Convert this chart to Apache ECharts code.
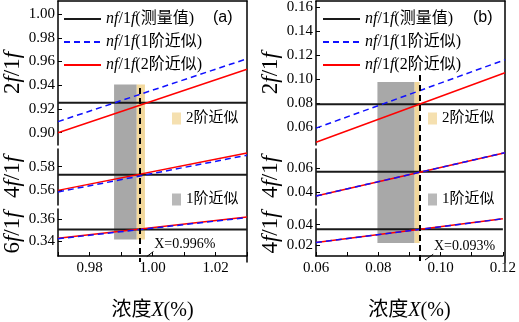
<!DOCTYPE html>
<html>
<head>
<meta charset="utf-8">
<script src="https://cdn.jsdelivr.net/npm/echarts@6/dist/echarts.min.js"></script>
<style>
  html, body { margin: 0; padding: 0; background: #fff; }
  #main { width: 519px; height: 322px; }
</style>
</head>
<body>
<div id="main"></div>
<script>
// ---- panel (a) data ----
const xRangeA = [0.97, 1.03];
const xTicksA = [0.97, 0.98, 0.99, 1.00, 1.01, 1.02, 1.03];
const xLabelsA = [0.98, 1.00, 1.02];
const yRangesA = [[0.8896, 1.011], [0.5477, 0.5948], [0.3262, 0.3696]];
const yTicksA = [[0.90, 0.92, 0.94, 0.96, 0.98, 1.00], [0.56, 0.58], [0.34, 0.36]];
const measuredA = [0.9253, 0.5731, 0.3506];
const firstA = [[0.9093, 0.9623], [0.5587, 0.5896], [0.3421, 0.3617]];
const secondA = [[0.9000, 0.9534], [0.5600, 0.5915], [0.3427, 0.3623]];
const grayA = [0.9878, 0.9950];
const orangeA = [0.9950, 0.9976];
const solutionA = 0.996;

// ---- panel (b) data ----
const xRangeB = [0.06, 0.12];
const xTicksB = [0.06, 0.07, 0.08, 0.09, 0.10, 0.11, 0.12];
const xLabelsB = [0.06, 0.08, 0.10, 0.12];
const yRangesB = [[0.04525, 0.1653], [0.0294, 0.0761], [0.0088, 0.0557]];
const yTicksB = [[0.06, 0.08, 0.10, 0.12, 0.14, 0.16], [0.04, 0.06], [0.02, 0.04]];
const measuredB = [0.0792, 0.0572, 0.0356];
const firstB = [[0.0593, 0.1164], [0.0369, 0.0730], [0.0223, 0.0459]];
const secondB = [[0.0475, 0.1055], [0.0369, 0.0730], [0.0223, 0.0459]];
const grayB = [0.0795, 0.0913];
const orangeB = [0.0913, 0.0929];
const solutionB = 0.093;

const yNames = [['2', '4', '6'], ['2', '4', '4']];

// ---- layout ----
const FONT = '"Liberation Serif", "Noto Sans CJK SC", serif';
const CJK = '"Liberation Serif", "Noto Sans CJK SC", sans-serif';
const PLOT_W = 189;
const SUBS = [{ top: 1, h: 144 }, { top: 149, h: 56 }, { top: 209, h: 53 }];
const OVER_H = 261;

const panels = [
  { left: 58, x: xRangeA, xTicks: xTicksA, xLabels: xLabelsA, yRanges: yRangesA, yTicks: yTicksA,
    meas: measuredA, first: firstA, second: secondA, gray: grayA, orange: orangeA, sol: solutionA,
    areaY: [83.5, 238.5], solTop: 87, lead: [[0.9982, 255.5], [1.0003, 250.5]], label: 'X=0.996%',
    names: yNames[0], tag: '(a)', tagLeft: 213, legLeft: 63, areaLegLeft: 172 },
  { left: 316, x: xRangeB, xTicks: xTicksB, xLabels: xLabelsB, yRanges: yRangesB, yTicks: yTicksB,
    meas: measuredB, first: firstB, second: secondB, gray: grayB, orange: orangeB, sol: solutionB,
    areaY: [81, 242], solTop: 74, lead: [[0.0946, 259], [0.0972, 253.3]], label: 'X=0.093%',
    names: yNames[1], tag: '(b)', tagLeft: 473, legLeft: 322, areaLegLeft: 428 }
];

const grid = [], xAxis = [], yAxis = [], series = [], title = [], legend = [];
const axisLine = { show: true, onZero: false, lineStyle: { color: '#000', width: 1.5 } };
const fmt2 = v => Number(v).toFixed(2);

panels.forEach((p, pi) => {
  p.yRanges.forEach((yr, s) => {
    const gi = grid.length;
    grid.push({ left: p.left, top: SUBS[s].top, width: PLOT_W, height: SUBS[s].h });
    const bottom = s === 2;
    xAxis.push({
      gridIndex: gi, type: 'value', min: p.x[0], max: p.x[1], show: bottom,
      axisLine, splitLine: { show: false },
      axisTick: { show: true, inside: true, length: 4, customValues: p.xTicks, lineStyle: { color: '#000' } },
      axisLabel: { customValues: p.xLabels, formatter: fmt2, color: '#000', fontFamily: FONT, fontSize: 15, margin: 5 },
      name: bottom ? '{c|浓度}{i|X}{c|(%)}' : '', nameLocation: 'middle', nameGap: 45,
      nameTextStyle: { rich: {
        c: { fontFamily: CJK, fontSize: 20, color: '#000' },
        i: { fontFamily: FONT, fontStyle: 'italic', fontSize: 20, color: '#000' } } }
    });
    yAxis.push({
      gridIndex: gi, type: 'value', min: yr[0], max: yr[1],
      axisLine, splitLine: { show: false },
      axisTick: { show: true, inside: true, length: 4, customValues: p.yTicks[s], lineStyle: { color: '#000' } },
      axisLabel: { customValues: p.yTicks[s], formatter: fmt2, color: '#000', fontFamily: FONT, fontSize: 15, margin: 3 },
      name: '{d|' + p.names[s] + '}{f|f}{d|/1}{f|f}', nameLocation: 'middle', nameGap: 34,
      nameTextStyle: { rich: {
        d: { fontFamily: FONT, fontSize: 23, color: '#000' },
        f: { fontFamily: FONT, fontStyle: 'italic', fontSize: 23, color: '#000' } } }
    });
    const pts = v => [[p.x[0], v[0]], [p.x[1], v[1]]];
    series.push({
      name: 'meas', type: 'line', xAxisIndex: gi, yAxisIndex: gi, symbol: 'none', silent: true,
      data: pts([p.meas[s], p.meas[s]]), color: '#1a1a1a', lineStyle: { color: '#1a1a1a', width: 2 }
    });
    series.push({
      name: 'second', type: 'line', xAxisIndex: gi, yAxisIndex: gi, symbol: 'none', silent: true,
      data: pts(p.second[s]), color: '#ff0000', lineStyle: { color: '#ff0000', width: 1.5 }
    });
    series.push({
      name: 'first', type: 'line', xAxisIndex: gi, yAxisIndex: gi, symbol: 'none', silent: true,
      data: pts(p.first[s]), color: '#1010ff', lineStyle: { color: '#1010ff', width: 1.5, type: [6, 4] }
    });
  });

  // overlay grid spanning the whole panel: frame, shaded ranges, solution line
  const oi = grid.length;
  grid.push({ left: p.left, top: 1, width: PLOT_W, height: OVER_H });
  xAxis.push({ gridIndex: oi, type: 'value', min: p.x[0], max: p.x[1], position: 'top',
    axisLine, axisTick: { show: false }, axisLabel: { show: false }, splitLine: { show: false } });
  yAxis.push({ gridIndex: oi, type: 'value', min: 0, max: OVER_H, inverse: true, position: 'right',
    axisLine, axisTick: { show: false }, axisLabel: { show: false }, splitLine: { show: false } });
  const area = (name, color, xr) => ({
    name, type: 'scatter', xAxisIndex: oi, yAxisIndex: oi, data: [], color,
    markArea: { silent: true, itemStyle: { color }, label: { show: false },
      data: [[{ coord: [xr[0], p.areaY[0]] }, { coord: [xr[1], p.areaY[1]] }]] }
  });
  series.push(area('1阶近似', '#a8a8a8', p.gray));
  series.push(area('2阶近似', '#f2d89c', p.orange));
  series.push({
    name: 'solution', type: 'line', xAxisIndex: oi, yAxisIndex: oi, data: [],
    markLine: { silent: true, symbol: ['none', 'none'], animation: false,
      lineStyle: { color: '#000', width: 2, type: [6, 4] }, label: { show: false },
      data: [
        [{ coord: [p.sol, p.solTop] }, { coord: [p.sol, OVER_H] }],
        [{ coord: p.lead[0], lineStyle: { width: 1, type: 'solid' } },
         { coord: p.lead[1], lineStyle: { width: 1, type: 'solid' },
           label: { show: true, position: 'end', formatter: p.label, color: '#000',
             align: 'left', verticalAlign: 'bottom',
             fontFamily: FONT, fontSize: 14, distance: 1 } }]
      ] }
  });

  title.push({ text: p.tag, left: p.tagLeft, top: 10, padding: 0,
    textStyle: { fontFamily: '"Liberation Sans", sans-serif', fontSize: 16, fontWeight: 'normal', color: '#000' } });

  legend.push({
    left: p.legLeft, top: 11, padding: 0, orient: 'vertical', itemWidth: 37, itemHeight: 14, itemGap: 7,
    selectedMode: false, data: ['meas', 'first', 'second'],
    itemStyle: { color: 'rgba(0,0,0,0)', borderWidth: 0, opacity: 0 },
    formatter: n => '{i|nf}{n|/1}{i|f}{c|(' + ({ meas: '测量值', first: '1阶近似', second: '2阶近似' })[n] + ')}',
    textStyle: { rich: {
      i: { fontFamily: FONT, fontStyle: 'italic', fontSize: 16, color: '#000' },
      n: { fontFamily: FONT, fontSize: 16, color: '#000' },
      c: { fontFamily: CJK, fontSize: 16, color: '#000' } } }
  });
  legend.push({
    left: p.areaLegLeft, top: 111, padding: 0, orient: 'vertical', icon: 'rect',
    itemWidth: 9, itemHeight: 12, itemGap: 66, selectedMode: false,
    data: ['2阶近似', '1阶近似'],
    textStyle: { fontFamily: CJK, fontSize: 15, color: '#000' }
  });
});

const chart = echarts.init(document.getElementById('main'), null, { renderer: 'canvas' });
chart.setOption({ animation: false, backgroundColor: '#fff', title, legend, grid, xAxis, yAxis, series });
window.onresize = function () { chart.resize(); };
</script>
</body>
</html>
